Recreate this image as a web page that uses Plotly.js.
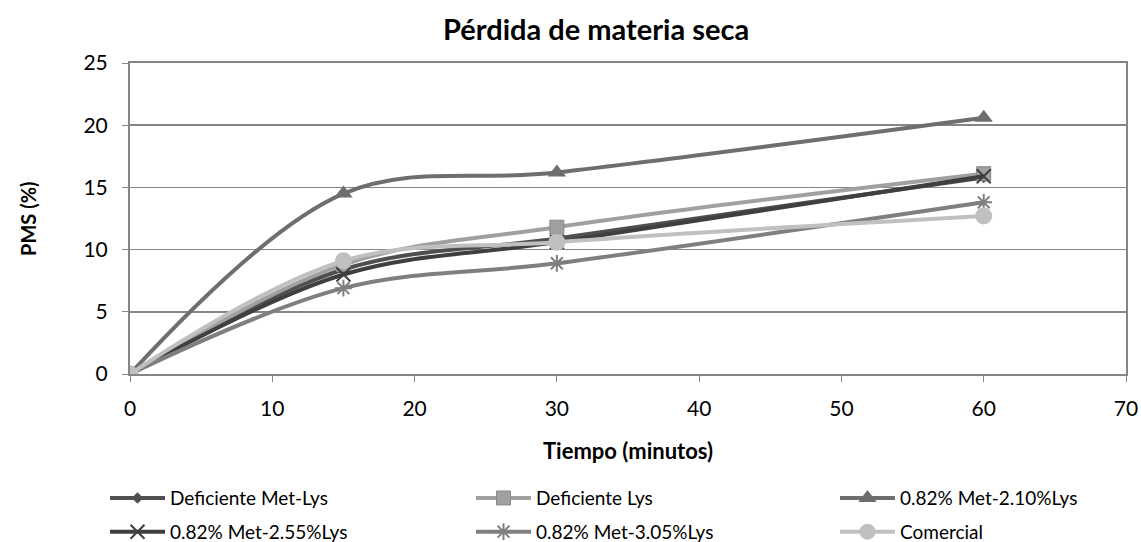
<!DOCTYPE html>
<html>
<head>
<meta charset="utf-8">
<script src="https://cdn.plot.ly/plotly-3.0.1.min.js"></script>
<style>
  html, body { margin: 0; padding: 0; background: #fff; }
  #chart { width: 1141px; height: 542px; }
</style>
</head>
<body>
<div id="chart"></div>
<script>
// Sampling times (minutes)
const tiempo = [0, 15, 30, 60];

// Dry matter loss (%) per diet
const deficienteMetLys = [0, 8.4, 10.9, 15.8];
const deficienteLys    = [0, 8.8, 11.8, 16.1];
const met210Lys        = [0, 14.5, 16.2, 20.6];
const met255Lys        = [0, 8.0, 10.6, 15.9];
const met305Lys        = [0, 6.9, 8.9, 13.8];
const comercial        = [0, 9.1, 10.6, 12.7];

const seriesNames = [
  'Deficiente Met-Lys',
  'Deficiente Lys',
  '0.82% Met-2.10%Lys',
  '0.82% Met-2.55%Lys',
  '0.82% Met-3.05%Lys',
  'Comercial'
];

const yTitle = '<b>PMS (%)</b>';

// legendKey places each series in one of three legend columns
function serie(name, y, color, symbol, size, legendKey, extraMarker) {
  return {
    type: 'scatter',
    mode: 'lines+markers',
    name: name,
    legend: legendKey,
    legendgroup: name,
    x: tiempo,
    y: y,
    line: { color: color, width: 4, shape: 'spline', smoothing: 1 },
    marker: Object.assign({ color: color, symbol: symbol, size: size }, extraMarker || {})
  };
}

const data = [
  serie(seriesNames[0], deficienteMetLys, '#4f4f4f', 'diamond', 9, 'legend'),
  serie(seriesNames[1], deficienteLys, '#a0a0a0', 'square', 14, 'legend2', { line: { color: '#8a8a8a', width: 1 } }),
  serie(seriesNames[2], met210Lys, '#6e6e6e', 'triangle-up', 16, 'legend3'),
  serie(seriesNames[3], met255Lys, '#3f3f3f', 'x-thin-open', 14, 'legend', { line: { color: '#3f3f3f', width: 2 } }),
  serie(seriesNames[4], met305Lys, '#7f7f7f', 'asterisk-open', 14, 'legend2', { line: { color: '#7f7f7f', width: 2 } }),
  serie(seriesNames[5], comercial, '#c0c0c0', 'circle', 17, 'legend3')
];

const FONT = 'Lato, sans-serif';

function legendColumn(xPx) {
  return {
    orientation: 'v',
    xref: 'container', yref: 'container',
    x: xPx / 1141, xanchor: 'left',
    y: 0.116, yanchor: 'top',
    font: { family: FONT, size: 19 },
    itemwidth: 55,
    tracegroupgap: 6,
    traceorder: 'grouped',
    bgcolor: 'rgba(0,0,0,0)'
  };
}

const layout = {
  width: 1141,
  height: 542,
  margin: { l: 130, r: 15, t: 63, b: 168, autoexpand: false },
  paper_bgcolor: '#ffffff',
  plot_bgcolor: '#ffffff',
  font: { family: FONT, color: '#000000', size: 20 },
  title: {
    text: '<b>Pérdida de materia seca</b>',
    font: { family: FONT, size: 29, color: '#000' },
    x: 0.468, xref: 'paper', xanchor: 'center',
    y: 0.945, yanchor: 'middle'
  },
  xaxis: {
    range: [0, 70],
    tick0: 0, dtick: 10,
    showgrid: false,
    zeroline: false,
    showline: true, linecolor: '#868686', linewidth: 2,
    mirror: true,
    ticks: 'outside', ticklen: 6, tickcolor: '#868686', tickwidth: 1,
    ticklabelstandoff: 9,
    tickfont: { family: FONT, size: 21 },
    title: { text: '<b>Tiempo (minutos)</b>', font: { family: FONT, size: 22 }, standoff: 24 }
  },
  yaxis: {
    range: [0, 25],
    tick0: 0, dtick: 5,
    showgrid: true, gridcolor: '#868686', gridwidth: 1.5,
    zeroline: false,
    showline: true, linecolor: '#868686', linewidth: 2,
    mirror: true,
    ticks: 'outside', ticklen: 6, tickcolor: '#868686', tickwidth: 1,
    ticklabelstandoff: 10,
    tickfont: { family: FONT, size: 21 }
  },
  annotations: [{
    text: yTitle,
    xref: 'paper', yref: 'paper',
    x: -0.103, y: 0.5,
    xanchor: 'center', yanchor: 'middle',
    textangle: -90,
    showarrow: false,
    font: { family: FONT, size: 20, color: '#000' }
  }],
  showlegend: true,
  legend: legendColumn(105),
  legend2: legendColumn(471),
  legend3: legendColumn(835)
};

Plotly.newPlot('chart', data, layout, { displayModeBar: false, staticPlot: true });
</script>
</body>
</html>
